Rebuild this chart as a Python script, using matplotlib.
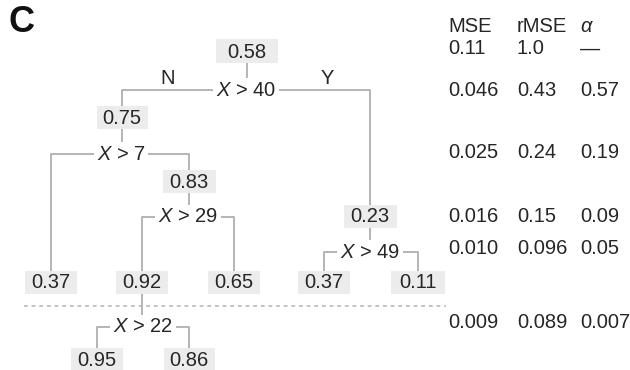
import matplotlib.pyplot as plt
from matplotlib.patches import Rectangle

plt.rcParams['font.family'] = ['Liberation Sans', 'DejaVu Sans']
plt.rcParams['mathtext.fontset'] = 'custom'
plt.rcParams['mathtext.it'] = 'Liberation Sans:italic'
plt.rcParams['mathtext.rm'] = 'Liberation Sans'

# tree: node values shown in grey boxes and split thresholds
box_vals = ['0.58', '0.75', '0.83', '0.23', '0.37', '0.92', '0.65', '0.37', '0.11', '0.95', '0.86']
split_thr = [40, 7, 29, 49, 22]
# split -> (parent box, left child box, right child box)
split_links = [(0, 1, 3), (1, 4, 2), (2, 5, 6), (3, 7, 8), (5, 9, 10)]

# pruning table on the right
tbl_head = ['MSE', 'rMSE', 'α']
tbl_mse = ['0.11', '0.046', '0.025', '0.016', '0.010', '0.009']
tbl_rmse = ['1.0', '0.43', '0.24', '0.15', '0.096', '0.089']
tbl_alpha = ['—', '0.57', '0.19', '0.09', '0.05', '0.007']

# layout (pixel units, y downwards)
box_pos = [(247, 51), (122, 117), (189, 181), (370, 216), (51, 282), (142, 282),
           (234, 282), (324, 282), (418, 282), (97, 359), (189, 359)]
box_w = [62, 51, 53, 53, 52, 52, 52, 52, 54, 52, 51]
box_h = 23
split_pos = [(246, 90), (121, 154), (188, 217), (370, 252), (143, 327)]
tbl_cols = [448, 517, 580]
tbl_rows = [49, 90, 153, 217, 249, 322]

line_c = '#b4b4b4'
box_c = '#ececec'
txt_c = '#262626'
fs = 14.5

fig = plt.figure(figsize=(6.3, 3.7), dpi=100)
ax = fig.add_axes([0, 0, 1, 1])
ax.set_xlim(0, 630)
ax.set_ylim(370, 0)
ax.axis('off')

# connecting lines
for (p, l, r), (sx, sy) in zip(split_links, split_pos):
    px, py = box_pos[p]
    ax.plot([px, px], [py + box_h / 2, sy], color=line_c, lw=1.4, zorder=1)
    lx, ly = box_pos[l]
    rx, ry = box_pos[r]
    ax.plot([lx, lx, rx, rx], [ly, sy, sy, ry], color=line_c, lw=1.4, zorder=1)

# split labels (white background masks the lines)
for thr, (sx, sy) in zip(split_thr, split_pos):
    ax.text(sx, sy, '$X$ > %d' % thr, ha='center', va='center', fontsize=fs,
            color=txt_c, zorder=3,
            bbox=dict(facecolor='white', edgecolor='none', pad=2.0))

# value boxes
for v, (bx, by), w in zip(box_vals, box_pos, box_w):
    h = box_h + (1 if w > 60 else 0)
    ax.add_patch(Rectangle((bx - w / 2, by - h / 2), w, h, facecolor=box_c,
                           edgecolor='none', zorder=2))
    ax.text(bx, by + 1, v, ha='center', va='center', fontsize=fs, color=txt_c, zorder=3)

# N / Y branch labels
ax.text(168, 78, 'N', ha='center', va='center', fontsize=fs, color=txt_c)
ax.text(327, 78, 'Y', ha='center', va='center', fontsize=fs, color=txt_c)

# pruning cut
ax.plot([24, 446], [306, 306], color=line_c, lw=1.1, ls=(0, (2.5, 2.5)), zorder=0)

# panel letter
ax.text(9, 23, 'C', ha='left', va='center', fontsize=26, fontweight='bold', color='#111111')

# table
ax.text(tbl_cols[0], 26, tbl_head[0], ha='left', va='center', fontsize=fs, color=txt_c)
ax.text(tbl_cols[1], 26, tbl_head[1], ha='left', va='center', fontsize=fs, color=txt_c)
ax.text(tbl_cols[2], 26, tbl_head[2], ha='left', va='center', fontsize=fs, color=txt_c,
        fontstyle='italic')
for y, a, b, c in zip(tbl_rows, tbl_mse, tbl_rmse, tbl_alpha):
    ax.text(tbl_cols[0], y, a, ha='left', va='center', fontsize=fs, color=txt_c)
    ax.text(tbl_cols[1], y, b, ha='left', va='center', fontsize=fs, color=txt_c)
    ax.text(tbl_cols[2], y, c, ha='left', va='center', fontsize=fs, color=txt_c)

fig.savefig('out.png', dpi=100, facecolor='white')
